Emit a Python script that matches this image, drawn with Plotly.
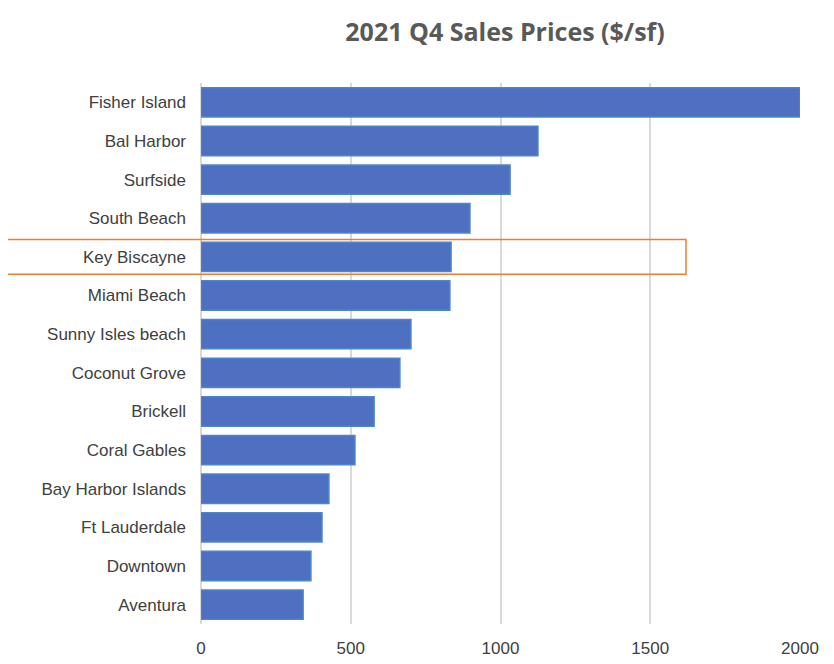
import plotly.graph_objects as go

areas = ["Fisher Island", "Bal Harbor", "Surfside", "South Beach", "Key Biscayne",
         "Miami Beach", "Sunny Isles beach", "Coconut Grove", "Brickell", "Coral Gables",
         "Bay Harbor Islands", "Ft Lauderdale", "Downtown", "Aventura"]
prices = [2000, 1125, 1032, 898, 835, 831, 701, 664, 578, 514, 427, 404, 367, 341]
x_ticks = [0, 500, 1000, 1500, 2000]
highlight = "Key Biscayne"

fig = go.Figure(go.Bar(
    x=prices, y=areas, orientation="h",
    marker=dict(color="#4F6FC0", line=dict(color="#4A86D0", width=1.5)),
    width=0.76,
))
hi = areas.index(highlight)
fig.add_shape(type="rect", xref="paper", yref="y",
              x0=-0.3306, x1=0.8097, y0=hi - 0.45, y1=hi + 0.45,
              line=dict(color="#ED7D31", width=1.5), fillcolor="rgba(0,0,0,0)")
fig.add_shape(type="line", xref="paper", yref="paper",
              x0=1.0551, x1=1.0551, y0=1.16, y1=0.784,
              line=dict(color="#3F5F5F", width=1))
fig.update_layout(
    width=834, height=664,
    margin=dict(l=193, r=42, t=75, b=48),
    paper_bgcolor="white", plot_bgcolor="white",
    showlegend=False,
    title=dict(text="<b>2021 Q4 Sales Prices ($/sf)</b>", x=0.596, xanchor="center",
               y=0.964, yanchor="middle",
               font=dict(family="Open Sans", size=25, color="#595959")),
    font=dict(family="Liberation Sans", size=17, color="#404040"),
)
fig.update_xaxes(range=[0, 2000], tickvals=x_ticks, showgrid=True, gridcolor="#D9D9D9",
                 gridwidth=1.5, zeroline=True, zerolinecolor="#D9D9D9", ticks="",
                 ticklabelstandoff=12)
fig.update_yaxes(autorange="reversed", showgrid=False, ticks="", ticklabelstandoff=14)
fig.write_html("out.html")
